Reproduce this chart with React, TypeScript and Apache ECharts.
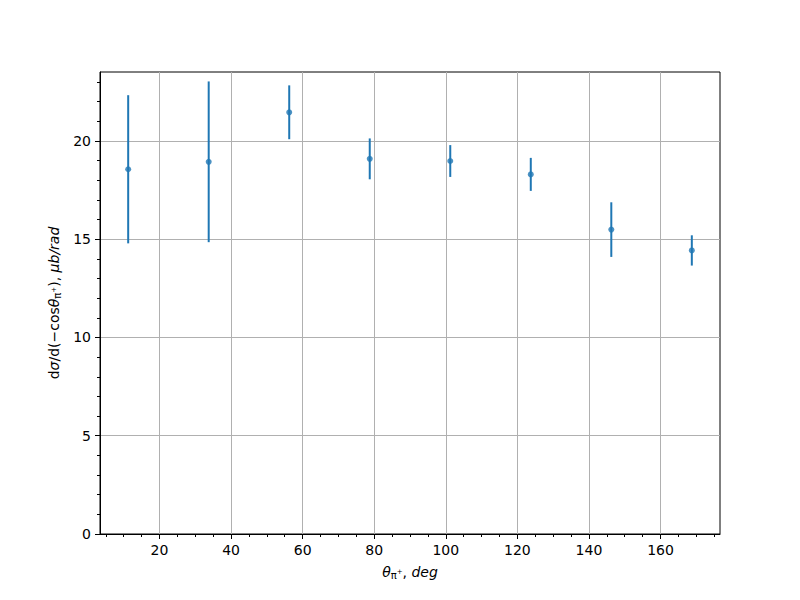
import React, { useEffect, useRef } from "react";
import * as echarts from "echarts";

const angles = [11.25, 33.75, 56.25, 78.75, 101.25, 123.75, 146.25, 168.75];
const values = [18.56, 18.94, 21.46, 19.09, 18.98, 18.3, 15.49, 14.43];
const errors = [3.77, 4.09, 1.37, 1.04, 0.81, 0.84, 1.39, 0.77];
const xMajorTicks = [20, 40, 60, 80, 100, 120, 140, 160];
const xMinorTicks = [5, 10, 15, 25, 30, 35, 45, 50, 55, 65, 70, 75, 85, 90, 95, 105, 110, 115, 125, 130, 135, 145, 150, 155, 165, 170, 175];
const yMajorTicks = [0, 5, 10, 15, 20];
const yMinorTicks = [1, 2, 3, 4, 6, 7, 8, 9, 11, 12, 13, 14, 16, 17, 18, 19, 21, 22, 23];

const X_MIN = 3.375;
const X_MAX = 176.625;
const Y_MIN = 0;
const Y_MAX = 23.51;

const FONT = "DejaVu Sans";
const COLOR = "#1f77b4";

export default function App() {
  const ref = useRef<HTMLDivElement>(null);
  useEffect(() => {
    if (!ref.current) return;
    const chart = echarts.init(ref.current, undefined, { renderer: "svg" });
    const rich = {
      n: { fontFamily: FONT, fontSize: 14, color: "#000" },
      i: { fontFamily: FONT, fontSize: 14, fontStyle: "italic", color: "#000" },
      sub: { fontFamily: FONT, fontSize: 10, color: "#000", padding: [6, 0, 0, 0] },
      sup: { fontFamily: FONT, fontSize: 7, color: "#000", padding: [0, 0, 1, 0] },
    };
    const baseAxisCommon = {
      axisLine: { show: true, lineStyle: { color: "#000", width: 1 } },
    };
    chart.setOption({
      animation: false,
      backgroundColor: "#fff",
      grid: {
        left: 100,
        top: 72,
        right: 80,
        bottom: 66,
        show: true,
        borderColor: "#000",
        borderWidth: 1,
        backgroundColor: "transparent",
      },
      xAxis: [
        {
          type: "value",
          min: X_MIN,
          max: X_MAX,
          position: "bottom",
          ...baseAxisCommon,
          axisTick: { show: true, length: 5, customValues: xMajorTicks, lineStyle: { color: "#000" } },
          axisLabel: {
            customValues: xMajorTicks,
            fontFamily: FONT,
            fontSize: 14,
            color: "#000",
            margin: 9,
          },
          splitLine: { show: true, lineStyle: { color: "#b0b0b0", width: 1 } },
          name: "{i|θ}{sub|π}{sup|+}{n|, }{i|deg}",
          nameLocation: "middle",
          nameGap: 30,
          nameTextStyle: { rich },
        },
        {
          type: "value",
          min: X_MIN,
          max: X_MAX,
          position: "bottom",
          offset: 0,
          axisLine: { show: false },
          axisTick: { show: true, length: 3, customValues: xMinorTicks, lineStyle: { color: "#000" } },
          axisLabel: { show: false },
          splitLine: { show: false },
        },
      ],
      yAxis: [
        {
          type: "value",
          min: Y_MIN,
          max: Y_MAX,
          position: "left",
          ...baseAxisCommon,
          axisTick: { show: true, length: 5, customValues: yMajorTicks, lineStyle: { color: "#000" } },
          axisLabel: {
            customValues: yMajorTicks,
            fontFamily: FONT,
            fontSize: 14,
            color: "#000",
            margin: 9,
          },
          splitLine: { show: true, lineStyle: { color: "#b0b0b0", width: 1 } },
          name: "{n|d}{i|σ}{n|/d(−cos}{i|θ}{sub|π}{sup|+}{n|), }{i|μb/rad}",
          nameLocation: "middle",
          nameGap: 38,
          nameRotate: 90,
          nameTextStyle: { rich },
        },
        {
          type: "value",
          min: Y_MIN,
          max: Y_MAX,
          position: "left",
          offset: 0,
          axisLine: { show: false },
          axisTick: { show: true, length: 3, customValues: yMinorTicks, lineStyle: { color: "#000" } },
          axisLabel: { show: false },
          splitLine: { show: false },
        },
      ],
      series: [
        {
          type: "custom",
          xAxisIndex: 0,
          yAxisIndex: 0,
          data: angles.map((a, i) => [a, values[i], errors[i]]),
          renderItem: (params: any, api: any) => {
            const x = api.value(0);
            const y = api.value(1);
            const e = api.value(2);
            const p1 = api.coord([x, y - e]);
            const p2 = api.coord([x, y + e]);
            return {
              type: "line",
              shape: { x1: p1[0], y1: p1[1], x2: p2[0], y2: p2[1] },
              style: { stroke: COLOR, lineWidth: 2 },
            };
          },
          z: 3,
        },
        {
          type: "scatter",
          xAxisIndex: 0,
          yAxisIndex: 0,
          data: angles.map((a, i) => [a, values[i]]),
          symbol: "circle",
          symbolSize: 6,
          itemStyle: { color: COLOR },
          z: 4,
        },
      ],
    });
    return () => chart.dispose();
  }, []);
  return <div ref={ref} style={{ width: 800, height: 600, margin: -8 }} />;
}
